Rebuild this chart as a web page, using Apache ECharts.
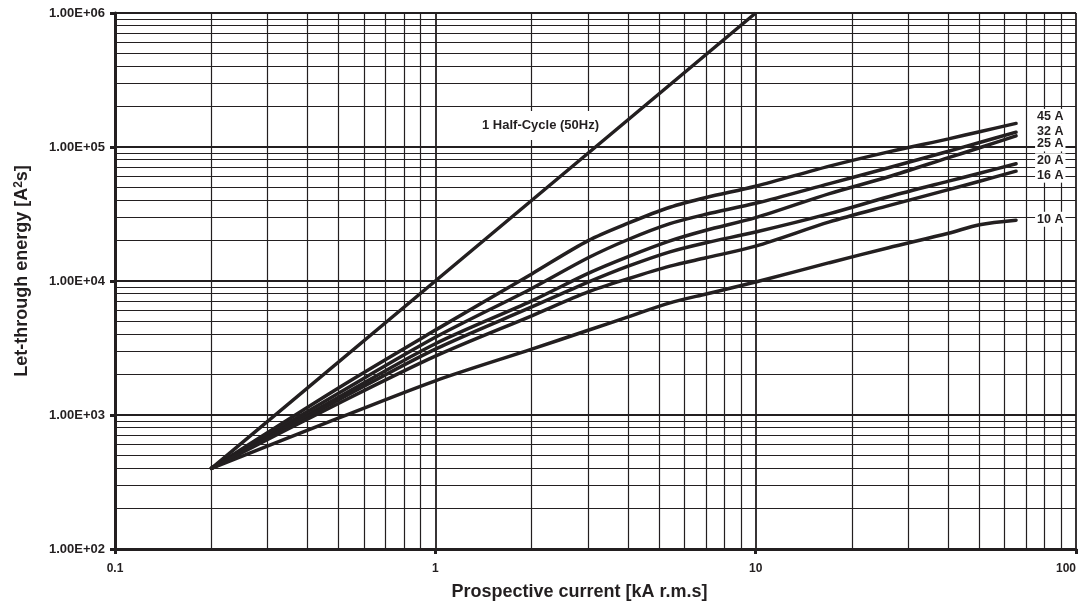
<!DOCTYPE html>
<html lang="en">
<head>
    <meta charset="UTF-8">
    <title>Let-through energy</title>
    <script src="https://cdn.jsdelivr.net/npm/echarts@6/dist/echarts.min.js"></script>
    <style>
        html, body {
            margin: 0;
            height: 100%;
            background: #fff;
        }
    </style>
</head>
<body>
<div id="main" style="width: 1085px;height: 607px"></div>
<script>
    // prospective current [kA]
    var currents = [0.2, 0.5, 1, 2, 3, 4, 5.4, 7, 10, 17, 26, 40, 50, 65];
    // let-through energy [A2s] per rating
    var i2t45 = [400, 1600, 4300, 11300, 20000, 27000, 35500, 42000, 51000, 72000, 92000, 115000, 130000, 150000];
    var i2t32 = [400, 1460, 3800, 8800, 14900, 20400, 26800, 31500, 38000, 53300, 70000, 93000, 108000, 129000];
    var i2t25 = [400, 1360, 3400, 7100, 11400, 15200, 19900, 23900, 29700, 44900, 60000, 83300, 98700, 121000];
    var i2t20 = [400, 1300, 3100, 6400, 9800, 12900, 16500, 19300, 23200, 31800, 42500, 55600, 63700, 75000];
    var i2t16 = [400, 1225, 2750, 5500, 8280, 10400, 12900, 14900, 18200, 27600, 36500, 48100, 55500, 66000];
    var i2t10 = [400, 950, 1800, 3100, 4290, 5400, 6860, 8000, 9830, 13700, 17700, 22700, 26300, 28400];
    var ratings = ['45 A', '32 A', '25 A', '20 A', '16 A', '10 A'];

    // 1 half-cycle at 50 Hz
    var halfCycleX = [0.2, 1, 10];
    var halfCycleY = [400, 10000, 1000000];
    var halfCycleName = '1 Half-Cycle (50Hz)';

    // minor grid lines
    var gridX = [0.2, 0.3, 0.4, 0.5, 0.6, 0.7, 0.8, 0.9,
        2, 3, 4, 5, 6, 7, 8, 9,
        20, 30, 40, 50, 60, 70, 80, 90];
    var gridY = [200, 300, 400, 500, 600, 700, 800, 900,
        2000, 3000, 4000, 5000, 6000, 7000, 8000, 9000,
        20000, 30000, 40000, 50000, 60000, 70000, 80000, 90000,
        200000, 300000, 400000, 500000, 600000, 700000, 800000, 900000];

    var xMin = 0.1, xMax = 100, yMin = 100, yMax = 1000000;
    var ink = '#231f20';
    var font = '"Liberation Sans", Arial, sans-serif';

    var myChart = echarts.init(document.getElementById('main'));

    // snap to pixel centre so thin lines stay crisp
    function crisp(v) {
        return Math.round(v - 0.5) + 0.5;
    }

    // vertical / horizontal minor grid line
    function gridLine(vertical) {
        return function (params, api) {
            var v = api.value(vertical ? 0 : 1);
            var p0 = vertical ? api.coord([v, yMin]) : api.coord([xMin, v]);
            var p1 = vertical ? api.coord([v, yMax]) : api.coord([xMax, v]);
            var shape = vertical
                ? {x1: crisp(p0[0]), y1: p0[1], x2: crisp(p1[0]), y2: p1[1]}
                : {x1: p0[0], y1: crisp(p0[1]), x2: p1[0], y2: crisp(p1[1])};
            return {
                type: 'line',
                shape: shape,
                style: {stroke: ink, lineWidth: 1.2}
            };
        };
    }

    function pairs(xs, ys) {
        return xs.map(function (x, i) {
            return [x, ys[i]];
        });
    }

    var curves = [i2t45, i2t32, i2t25, i2t20, i2t16, i2t10];
    // vertical nudge of the end labels
    var labelShift = [-7, -1, 8, -3, 4, -1];

    var series = [
        {
            type: 'custom', silent: true, z: 1,
            renderItem: gridLine(true),
            data: gridX.map(function (v) { return [v, yMin]; })
        },
        {
            type: 'custom', silent: true, z: 1,
            renderItem: gridLine(false),
            data: gridY.map(function (v) { return [xMin, v]; })
        },
        {
            type: 'line', name: halfCycleName, z: 5,
            symbol: 'none',
            lineStyle: {color: ink, width: 3.5},
            data: pairs(halfCycleX, halfCycleY)
        }
    ];

    curves.forEach(function (ys, k) {
        series.push({
            type: 'line',
            name: ratings[k],
            z: 5,
            symbol: 'none',
            smooth: 0.3,
            lineStyle: {color: ink, width: 3.5, cap: 'round'},
            endLabel: {
                show: true,
                formatter: '{a}',
                position: 'right',
                distance: 19,
                offset: [0, labelShift[k]],
                color: ink,
                fontFamily: font,
                fontWeight: 'bold',
                fontSize: 12.5,
                backgroundColor: '#fff',
                padding: [1, 2]
            },
            data: pairs(currents, ys)
        });
    });

    var option = {
        animation: false,
        backgroundColor: '#fff',
        grid: {left: 115, right: 9, top: 13, bottom: 58, outerBoundsMode: 'none', containLabel: false},
        xAxis: {
            type: 'log',
            logBase: 10,
            min: xMin,
            max: xMax,
            name: 'Prospective current [kA r.m.s]',
            nameLocation: 'middle',
            nameGap: 34,
            nameTextStyle: {
                color: ink, fontFamily: font, fontWeight: 'bold', fontSize: 18,
                padding: [0, 32, 0, 0]
            },
            axisLine: {lineStyle: {color: ink, width: 3}},
            axisTick: {length: 5, lineStyle: {color: ink, width: 3}},
            axisLabel: {
                color: ink, fontFamily: font, fontWeight: 'bold', fontSize: 12, margin: 14,
                alignMaxLabel: 'right',
                formatter: function (v) {
                    return String(+v.toPrecision(3));
                }
            },
            splitLine: {show: true, lineStyle: {color: ink, width: 1.8}}
        },
        yAxis: {
            type: 'log',
            logBase: 10,
            min: yMin,
            max: yMax,
            name: 'Let-through energy [A{sup|2}s]',
            nameLocation: 'middle',
            nameRotate: 90,
            nameGap: 84,
            nameTextStyle: {
                color: ink, fontFamily: font, fontWeight: 'bold', fontSize: 18,
                padding: [0, 0, 0, 20],
                rich: {
                    sup: {color: ink, fontFamily: font, fontWeight: 'bold', fontSize: 12, verticalAlign: 'top'}
                }
            },
            axisLine: {lineStyle: {color: ink, width: 3}},
            axisTick: {length: 5, lineStyle: {color: ink, width: 3}},
            axisLabel: {
                color: ink, fontFamily: font, fontWeight: 'bold', fontSize: 13, margin: 10,
                formatter: function (v) {
                    var e = Math.round(Math.log10(v));
                    var m = v / Math.pow(10, e);
                    return m.toFixed(2) + 'E+' + (e < 10 ? '0' : '') + e;
                }
            },
            splitLine: {show: true, lineStyle: {color: ink, width: 1.8}}
        },
        graphic: [{
            type: 'text',
            left: 476,
            top: 111,
            z: 2,
            style: {
                text: halfCycleName,
                fill: ink,
                font: 'bold 13px ' + font,
                backgroundColor: '#fff',
                padding: [8, 6]
            }
        }],
        series: series
    };

    myChart.setOption(option);
</script>
</body>
</html>
